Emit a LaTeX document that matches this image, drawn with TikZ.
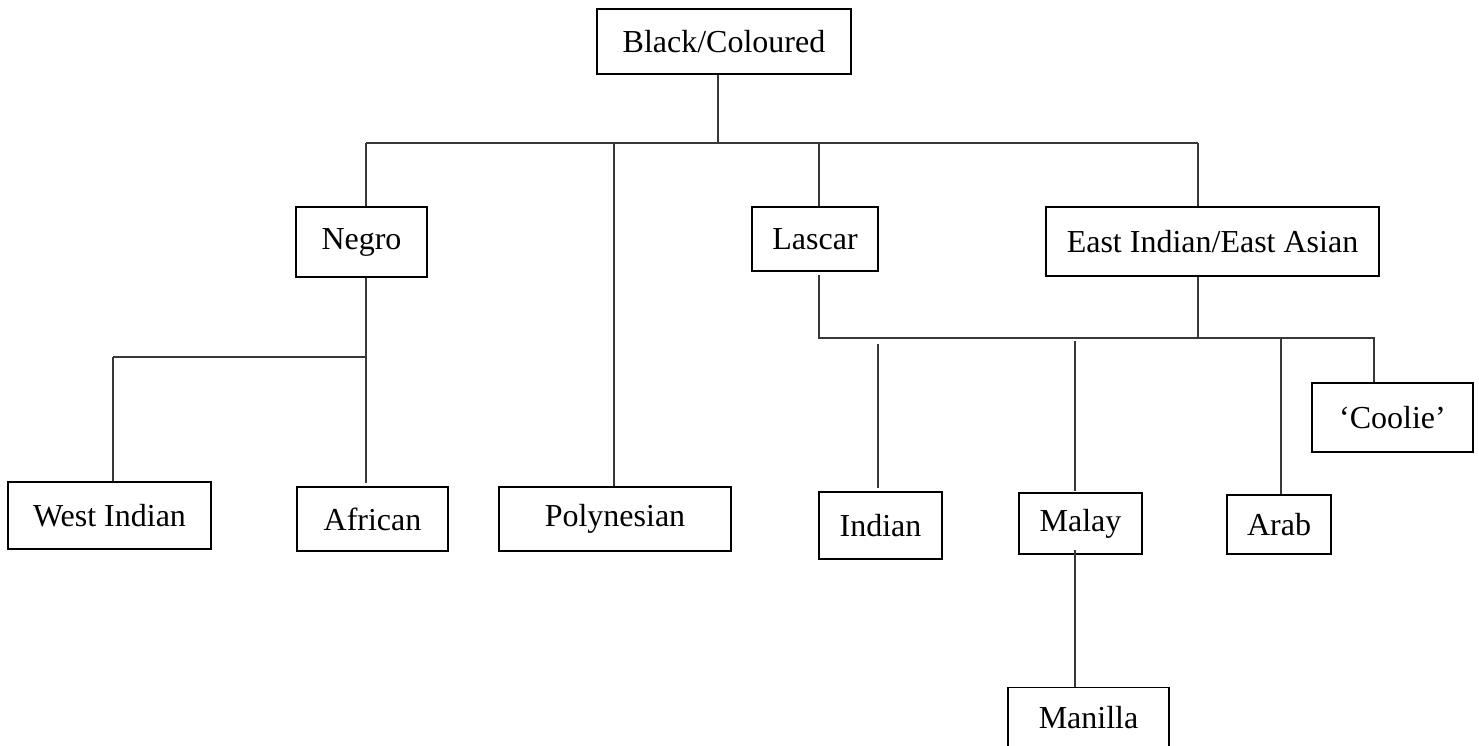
\documentclass[tikz,border=0pt]{standalone}
\usepackage{fontspec}
\setmainfont{Liberation Serif}
\begin{document}
\begin{tikzpicture}[x=1pt,y=-1pt,
  box/.style={draw=black,line width=1.5pt,rectangle,inner sep=0pt,
    font=\fontsize{32}{38}\selectfont,text=black},
  link/.style={draw=black!78,line width=1.8pt}]
\useasboundingbox (0,0) rectangle (1479,745);
% boxes
\node[box,minimum width=254pt,minimum height=65pt] (bc) at (724,41.5) {Black/Coloured};
\node[box,minimum width=131pt,minimum height=70pt] (negro) at (361.5,242) {Negro};
\node[box,minimum width=126pt,minimum height=64pt] (lascar) at (815,239) {Lascar};
\node[box,minimum width=333pt,minimum height=69pt] (eastind) at (1212.5,241.5) {East Indian/East Asian};
\node[box,minimum width=203pt,minimum height=67pt] (westind) at (109.5,515.5) {West Indian};
\node[box,minimum width=151pt,minimum height=64pt] (african) at (372.5,519) {African};
\node[box,minimum width=232pt,minimum height=64pt] (poly) at (615,519) {Polynesian};
\node[box,minimum width=123pt,minimum height=67pt] (indian) at (880.5,525.5) {Indian};
\node[box,minimum width=123pt,minimum height=61pt] (malay) at (1080.5,523.5) {Malay};
\node[box,minimum width=104pt,minimum height=59pt] (arab) at (1279,524.5) {Arab};
\node[box,minimum width=161pt,minimum height=69pt] (coolie) at (1392.5,417.5) {‘Coolie’};
\node[box,minimum width=161pt,minimum height=60pt] (manilla) at (1088.5,717.5) {Manilla};
% junction coordinates
\coordinate (jtop) at (718,143);
\coordinate (jl) at (366,143);
\coordinate (jp) at (614,143);
\coordinate (jla) at (819,143);
\coordinate (jr) at (1198,143);
\coordinate (jn) at (366,357);
\coordinate (jw) at (113,357);
\coordinate (jlow) at (819,338);
\coordinate (jei) at (1198,338);
\coordinate (jin) at (878,338);
\coordinate (jma) at (1075,338);
\coordinate (jar) at (1281,338);
\coordinate (jco) at (1374,338);
% connectors
\draw[link] (jtop |- bc.south) -- (jtop);
\draw[link] (jl) -- (jr);
\draw[link] (jl) -- (jl |- negro.north);
\draw[link] (jp) -- (poly.north -| jp);
\draw[link] (jla) -- (jla |- lascar.north);
\draw[link] (jr) -- (jr |- eastind.north);
\draw[link] (jn |- negro.south) -- ([yshift=3pt]jn |- african.north);
\draw[link] (jw) -- (jn);
\draw[link] (jw) -- (jw |- westind.north);
\draw[link] ([yshift=-3pt]jlow |- lascar.south) -- (jlow) -- (jco) -- (jco |- coolie.north);
\draw[link] (jei |- eastind.south) -- (jei);
\draw[link] ([yshift=-6pt]jin) -- ([yshift=3pt]jin |- indian.north);
\draw[link] ([yshift=-3pt]jma) -- ([yshift=1pt]jma |- malay.north);
\draw[link] (jar) -- (jar |- arab.north);
\draw[link] ([yshift=5pt]jma |- malay.south) -- (jma |- manilla.north);
\end{tikzpicture}
\end{document}
